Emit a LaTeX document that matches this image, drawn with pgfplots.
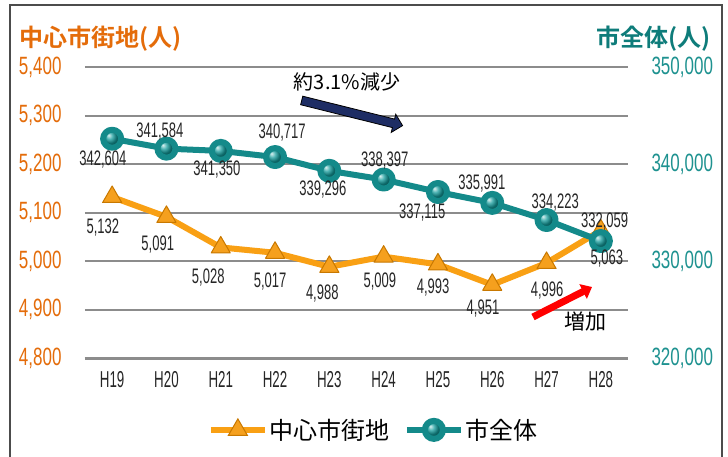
\documentclass[border=0pt]{standalone}
\usepackage{fontspec}
\usepackage{pgfplots}
\pgfplotsset{compat=1.18}
\usetikzlibrary{arrows.meta,shapes.arrows}
\setmainfont{Liberation Sans}
\newfontfamily\cond[FakeStretch=0.68]{Liberation Sans}
\newfontfamily\condl[FakeStretch=0.62]{Liberation Sans}
\newfontfamily\condx[FakeStretch=0.58]{Liberation Sans}
\newfontfamily\cjk{Noto Sans CJK JP}[BoldFont={Noto Sans CJK JP Bold}]
\definecolor{oline}{RGB}{249,160,20}
\definecolor{ofill}{RGB}{245,160,30}
\definecolor{oedge}{RGB}{200,120,0}
\definecolor{otext}{RGB}{228,108,10}
\definecolor{tline}{RGB}{20,138,138}
\definecolor{tball}{RGB}{20,155,155}
\definecolor{ttext}{RGB}{30,146,144}
\definecolor{ttitle}{RGB}{14,124,122}
\definecolor{navyarrow}{RGB}{30,45,100}
\definecolor{gridc}{RGB}{140,140,140}
\definecolor{lbl}{RGB}{38,38,38}
\pgfplotsset{base/.style={scale only axis, width=543pt, height=291pt,
  at={(85pt,98pt)}, anchor=south west, xmin=-0.5, xmax=9.5,
  scaled y ticks=false, /pgf/number format/assume math mode=true,
  /pgf/number format/fixed, /pgf/number format/precision=0,
  /pgf/number format/1000 sep={,}, major tick length=0pt, clip=false}}
\pgfplotstableread{
x y l
-0.17 5070 5,132
0.84 5033 5,091
1.77 4965 5,028
2.91 4957 5,017
3.87 4932 4,988
4.93 4957 5,009
5.91 4946 4,993
6.83 4903 4,951
8.01 4940 4,996
9.11 5006 5,063
}\olabels
\pgfplotstableread{
x y l
-0.17 340412 342,604
0.88 343299 341,584
1.93 339381 341,350
3.13 343196 340,717
3.88 337319 339,296
5.02 340309 338,397
5.71 335050 337,115
6.81 338040 335,991
8.16 336081 334,223
9.07 334020 332,059
}\tlabels
\begin{document}
\begin{tikzpicture}
\useasboundingbox (0pt,0pt) rectangle (728pt,456pt);
\fill[white] (0pt,0pt) rectangle (728pt,456pt);
\draw[line width=1.5pt, color=black!70] (10pt,-10pt) -- (10pt,451pt) -- (722pt,451pt) -- (722pt,-10pt);
% axis 1: orange
\begin{axis}[base, ymin=4800, ymax=5400, ytick={4800,4900,...,5400},
  xtick={0,...,9}, xticklabels={H19,H20,H21,H22,H23,H24,H25,H26,H27,H28},
  ymajorgrids, major grid style={gridc, line width=2pt},
  axis x line*=bottom, axis y line*=left,
  x axis line style={gridc, line width=3pt, -}, y axis line style={draw=none},
  yticklabel style={font=\cond\fontsize{25}{25}\selectfont, text=otext, anchor=east, xshift=-20pt},
  xticklabel style={font=\condx\fontsize{23}{23}\selectfont, text=lbl, yshift=-10pt}]
\addplot[oline, line width=6pt, line join=round, mark=triangle*, mark size=11pt,
  mark options={fill=ofill, draw=oedge, line width=1pt, solid}]
  coordinates {(0,5132) (1,5091) (2,5028) (3,5017) (4,4988) (5,5009) (6,4993) (7,4951) (8,4996) (9,5063)};
\end{axis}
% axis 2: teal
\begin{axis}[base, ymin=320000, ymax=350000, ytick={320000,330000,340000,350000},
  axis y line*=right, axis x line=none, y axis line style={draw=none},
  yticklabel style={font=\cond\fontsize{25}{25}\selectfont, text=ttext, anchor=west, xshift=20pt}]
\addplot[tline, line width=6pt, line join=round, mark=ball, mark size=9pt,
  mark options={ball color=tball}]
  coordinates {(0,342604) (1,341584) (2,341350) (3,340717) (4,339296) (5,338397) (6,337115) (7,335991) (8,334223) (9,332059)};
\addplot[draw=none, mark=none, forget plot, nodes near coords={\pgfplotspointmeta}, point meta=explicit symbolic,
  every node near coord/.append style={anchor=center, inner sep=0pt, text=lbl, font=\condl\fontsize{21}{21}\selectfont}]
  table[x=x, y=y, meta=l] {\tlabels};
\end{axis}
% axis 3: orange labels + legend
\begin{axis}[base, hide axis, ymin=4800, ymax=5400,
  legend style={at={(0.532,-0.247)}, anchor=center, draw=none, fill=none,
    font=\cjk\fontsize{24}{24}\selectfont,
    /tikz/every even column/.append style={column sep=12pt}},
  legend columns=2,
  legend image code/.code={\draw[mark repeat=2, mark phase=2, #1] plot coordinates {(0pt,0pt) (27pt,0pt) (54pt,0pt)};}]
\addlegendimage{oline, line width=6pt, mark=triangle*, mark size=11pt, mark options={fill=ofill, draw=oedge, line width=1pt, solid}}
\addlegendentry{中心市街地}
\addlegendimage{tline, line width=6pt, mark=ball, mark size=9pt, mark options={ball color=tball}}
\addlegendentry{市全体}
\addplot[draw=none, mark=none, forget plot, nodes near coords={\pgfplotspointmeta}, point meta=explicit symbolic,
  every node near coord/.append style={anchor=center, inner sep=0pt, text=lbl, font=\condl\fontsize{21}{21}\selectfont}]
  table[x=x, y=y, meta=l] {\olabels};
\end{axis}
% annotations
\node[font=\cjk\fontsize{20}{20}\selectfont, anchor=center] at (347pt,374pt) {約3.1\%減少};
\node[single arrow, draw=black, line width=0.8pt, fill=navyarrow, minimum height=104pt,
  inner sep=4pt, single arrow head extend=5pt, rotate=-14] at (350pt,343.5pt) {};
\draw[red, line width=7pt, -{Triangle[length=10pt,width=16pt]}] (533pt,139pt) -- (592pt,169pt);
\node[font=\cjk\fontsize{21}{21}\selectfont] at (585pt,134pt) {増加};
\node[anchor=west, font=\cjk\bfseries\fontsize{24}{24}\selectfont, text=otext] at (16pt,417.5pt) {中心市街地(人)};
\node[anchor=east, font=\cjk\bfseries\fontsize{24}{24}\selectfont, text=ttitle] at (714pt,417.5pt) {市全体(人)};
\end{tikzpicture}
\end{document}
